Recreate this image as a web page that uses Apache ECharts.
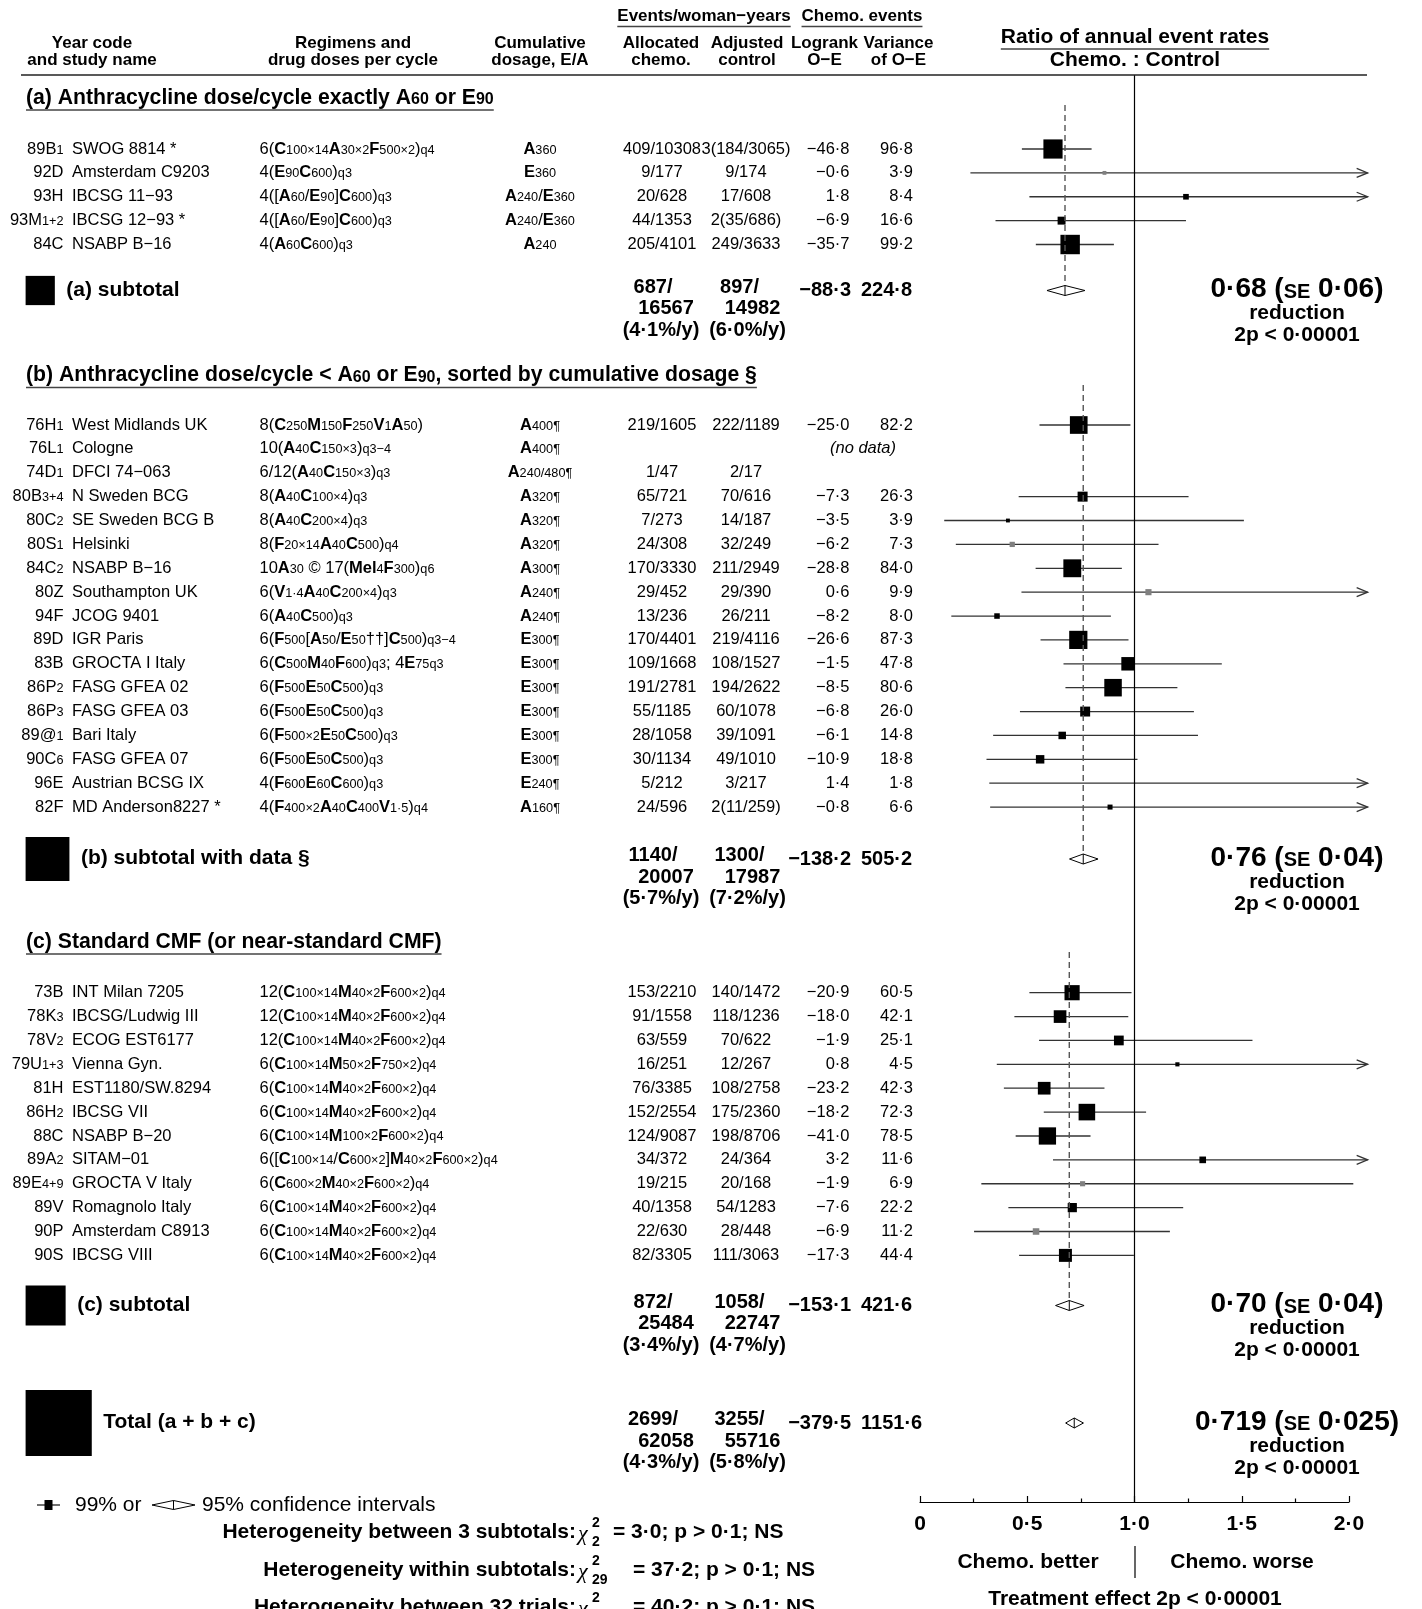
<!DOCTYPE html>
<html><head><meta charset="utf-8">
<script src="https://cdn.jsdelivr.net/npm/echarts@6/dist/echarts.min.js"></script>
<style>html,body{margin:0;padding:0;background:#fff}#c{width:1422px;height:1609px}</style>
</head><body><div id="c"></div>
<script>
// ---------------- DATA ----------------
// markup: *X* = bold, _x_ = small subscript
const codesA = ['89B_1_','92D','93H','93M_1+2_','84C'];
const studiesA = ['SWOG 8814 *','Amsterdam C9203','IBCSG 11−93','IBCSG 12−93 *','NSABP B−16'];
const regimensA = ['6(*C*_100×14_*A*_30×2_*F*_500×2_)_q4_','4(*E*_90_*C*_600_)_q3_','4([*A*_60_/*E*_90_]*C*_600_)_q3_','4([*A*_60_/*E*_90_]*C*_600_)_q3_','4(*A*_60_*C*_600_)_q3_'];
const cumulA = ['*A*_360_','*E*_360_','*A*_240_/*E*_360_','*A*_240_/*E*_360_','*A*_240_'];
const allocA = ['409/10308','9/177','20/628','44/1353','205/4101'];
const adjA = ['3(184/3065)','9/174','17/608','2(35/686)','249/3633'];
const oeA = [-46.8,-0.6,1.8,-6.9,-35.7];
const varA = [96.8,3.9,8.4,16.6,99.2];
const ratioA = [0.62,0.86,1.24,0.66,0.70];
const loA = [0.475,0.235,0.51,0.352,0.54];
const hiA = [0.80,3.16,3.01,1.24,0.904];
const grayA = [0,1,0,0,0];

const codesB = ['76H_1_','76L_1_','74D_1_','80B_3+4_','80C_2_','80S_1_','84C_2_','80Z','94F','89D','83B','86P_2_','86P_3_','89@_1_','90C_6_','96E','82F'];
const studiesB = ['West Midlands UK','Cologne','DFCI 74−063','N Sweden BCG','SE Sweden BCG B','Helsinki','NSABP B−16','Southampton UK','JCOG 9401','IGR Paris','GROCTA I Italy','FASG GFEA 02','FASG GFEA 03','Bari Italy','FASG GFEA 07','Austrian BCSG IX','MD Anderson8227 *'];
const regimensB = ['8(*C*_250_*M*_150_*F*_250_*V*_1_*A*_50_)','10(*A*_40_*C*_150×3_)_q3−4_','6/12(*A*_40_*C*_150×3_)_q3_','8(*A*_40_*C*_100×4_)_q3_','8(*A*_40_*C*_200×4_)_q3_','8(*F*_20×14_*A*_40_*C*_500_)_q4_','10*A*_30_ © 17(*Mel*_4_*F*_300_)_q6_','6(*V*_1·4_*A*_40_*C*_200×4_)_q3_','6(*A*_40_*C*_500_)_q3_','6(*F*_500_[*A*_50_/*E*_50_††]*C*_500_)_q3−4_','6(*C*_500_*M*_40_*F*_600_)_q3_; 4*E*_75q3_','6(*F*_500_*E*_50_*C*_500_)_q3_','6(*F*_500_*E*_50_*C*_500_)_q3_','6(*F*_500×2_*E*_50_*C*_500_)_q3_','6(*F*_500_*E*_50_*C*_500_)_q3_','4(*F*_600_*E*_60_*C*_600_)_q3_','4(*F*_400×2_*A*_40_*C*_400_*V*_1·5_)_q4_'];
const cumulB = ['*A*_400¶_','*A*_400¶_','*A*_240/480¶_','*A*_320¶_','*A*_320¶_','*A*_320¶_','*A*_300¶_','*A*_240¶_','*A*_240¶_','*E*_300¶_','*E*_300¶_','*E*_300¶_','*E*_300¶_','*E*_300¶_','*E*_300¶_','*E*_240¶_','*A*_160¶_'];
const allocB = ['219/1605','','1/47','65/721','7/273','24/308','170/3330','29/452','13/236','170/4401','109/1668','191/2781','55/1185','28/1058','30/1134','5/212','24/596'];
const adjB = ['222/1189','','2/17','70/616','14/187','32/249','211/2949','29/390','26/211','219/4116','108/1527','194/2622','60/1078','39/1091','49/1010','3/217','2(11/259)'];
const oeB = [-25.0,null,null,-7.3,-3.5,-6.2,-28.8,0.6,-8.2,-26.6,-1.5,-8.5,-6.8,-6.1,-10.9,1.4,-0.8];
const varB = [82.2,null,null,26.3,3.9,7.3,84.0,9.9,8.0,87.3,47.8,80.6,26.0,14.8,18.8,1.8,6.6];
const ratioB = [0.74,null,null,0.758,0.41,0.43,0.71,1.065,0.359,0.738,0.97,0.90,0.77,0.663,0.56,null,0.886];
const loB = [0.557,null,null,0.46,0.113,0.167,0.539,0.473,0.146,0.562,0.669,0.678,0.466,0.341,0.31,0.323,0.327];
const hiB = [0.981,null,null,1.252,1.51,1.112,0.941,2.41,0.89,0.972,1.407,1.2,1.277,1.296,1.014,3.05,2.42];
const grayB = [0,0,0,0,0,1,0,1,0,0,0,0,0,0,0,0,0];
const notesB = ['','(no data)','','','','','','','','','','','','','','',''];

const codesC = ['73B','78K_3_','78V_2_','79U_1+3_','81H','86H_2_','88C','89A_2_','89E_4+9_','89V','90P','90S'];
const studiesC = ['INT Milan 7205','IBCSG/Ludwig III','ECOG EST6177','Vienna Gyn.','EST1180/SW.8294','IBCSG VII','NSABP B−20','SITAM−01','GROCTA V Italy','Romagnolo Italy','Amsterdam C8913','IBCSG VIII'];
const regimensC = ['12(*C*_100×14_*M*_40×2_*F*_600×2_)_q4_','12(*C*_100×14_*M*_40×2_*F*_600×2_)_q4_','12(*C*_100×14_*M*_40×2_*F*_600×2_)_q4_','6(*C*_100×14_*M*_50×2_*F*_750×2_)_q4_','6(*C*_100×14_*M*_40×2_*F*_600×2_)_q4_','6(*C*_100×14_*M*_40×2_*F*_600×2_)_q4_','6(*C*_100×14_*M*_100×2_*F*_600×2_)_q4_','6([*C*_100×14_/*C*_600×2_]*M*_40×2_*F*_600×2_)_q4_','6(*C*_600×2_*M*_40×2_*F*_600×2_)_q4_','6(*C*_100×14_*M*_40×2_*F*_600×2_)_q4_','6(*C*_100×14_*M*_40×2_*F*_600×2_)_q4_','6(*C*_100×14_*M*_40×2_*F*_600×2_)_q4_'];
const cumulC = ['','','','','','','','','','','',''];
const allocC = ['153/2210','91/1558','63/559','16/251','76/3385','152/2554','124/9087','34/372','19/215','40/1358','22/630','82/3305'];
const adjC = ['140/1472','118/1236','70/622','12/267','108/2758','175/2360','198/8706','24/364','20/168','54/1283','28/448','111/3063'];
const oeC = [-20.9,-18.0,-1.9,0.8,-23.2,-18.2,-41.0,3.2,-1.9,-7.6,-6.9,-17.3];
const varC = [60.5,42.1,25.1,4.5,42.3,72.3,78.5,11.6,6.9,22.2,11.2,44.4];
const ratioC = [0.709,0.653,0.927,1.20,0.579,0.778,0.594,1.318,0.758,0.71,0.541,0.678];
const loC = [0.51,0.44,0.555,0.358,0.391,0.577,0.446,0.62,0.286,0.412,0.252,0.462];
const hiC = [0.986,0.971,1.55,4.0,0.86,1.054,0.795,2.81,2.02,1.227,1.165,0.997];
const grayC = [0,0,0,0,0,0,0,0,1,0,1,0];

const sectionTitles = ['(a) Anthracycline dose/cycle exactly A_60_ or E_90_','(b) Anthracycline dose/cycle < A_60_ or E_90_, sorted by cumulative dosage §','(c) Standard CMF (or near-standard CMF)'];
const subLabels = ['(a) subtotal','(b) subtotal with data §','(c) subtotal','Total (a + b + c)'];
const subAllocEv = ['687/','1140/','872/','2699/'];
const subAllocYrs = ['16567','20007','25484','62058'];
const subAllocRate = ['(4·1%/y)','(5·7%/y)','(3·4%/y)','(4·3%/y)'];
const subAdjEv = ['897/','1300/','1058/','3255/'];
const subAdjYrs = ['14982','17987','22747','55716'];
const subAdjRate = ['(6·0%/y)','(7·2%/y)','(4·7%/y)','(5·8%/y)'];
const subOE = [-88.3,-138.2,-153.1,-379.5];
const subVar = [224.8,505.2,421.6,1151.6];
const subRatio = [0.676,0.761,0.696,0.719];
const subLo95 = [0.592,0.697,0.632,0.679];
const subHi95 = [0.769,0.830,0.765,0.762];
const subRatioText = ['0·68','0·76','0·70','0·719'];
const subSEText = ['0·06','0·04','0·04','0·025'];
const xTicks = [0,0.5,1,1.5,2];
const hetLeft = ['Heterogeneity between 3 subtotals:','Heterogeneity within subtotals:','Heterogeneity between 32 trials:'];
const hetDf = ['2','29','31'];
const hetRight = ['= 3·0; p > 0·1; NS','= 37·2; p > 0·1; NS','= 40·2; p > 0·1; NS'];

// ---------------- LAYOUT ----------------
const FONTF = '"Liberation Sans", Arial, Helvetica, sans-serif';
const GT = 75, GB = 1502;
const STEP = 23.88;
const secTitleY = [98, 375.5, 942];
const secRowY0 = [149, 425, 992.7];
const subY = [290.5, 859, 1305.5, 1423];
const dashSpan = [[105, 285], [385, 854], [952, 1300]];
const ARROW_AT = 2.05, ARROW_TIP = 2.087;
const SQ_K = 1.95;

const mctx = document.createElement('canvas').getContext('2d');
function tw(font, s) { mctx.font = font; return mctx.measureText(s).width; }
function fmt(v) { return v == null ? '' : (v < 0 ? '−' : '') + Math.abs(v).toFixed(1).replace('.', '·'); }
function toRich(s, pl, bo, sm) {
  return s.split(/(\*[^*]+\*|_[^_]+_)/).filter(p => p !== '').map(p => {
    if (p[0] === '*') return '{' + bo + '|' + p.slice(1, -1) + '}';
    if (p[0] === '_') return '{' + sm + '|' + p.slice(1, -1) + '}';
    return '{' + pl + '|' + p + '}';
  }).join('');
}
const RT = {
  n: {fontSize: 16.5, fontFamily: FONTF, fill: '#000', lineHeight: 19},
  b: {fontSize: 16.5, fontFamily: FONTF, fontWeight: 'bold', fill: '#000', lineHeight: 19},
  s: {fontSize: 12.7, fontFamily: FONTF, fill: '#000', lineHeight: 19, height: 17, verticalAlign: 'bottom'}
};
const RTT = {
  t: {fontSize: 21.2, fontFamily: FONTF, fontWeight: 'bold', fill: '#000', lineHeight: 24},
  u: {fontSize: 16, fontFamily: FONTF, fontWeight: 'bold', fill: '#000', lineHeight: 24, height: 20.4, verticalAlign: 'bottom'}
};
const RTS = {
  g: {fontSize: 28, fontFamily: FONTF, fontWeight: 'bold', fill: '#000', lineHeight: 30},
  e: {fontSize: 20, fontFamily: FONTF, fontWeight: 'bold', fill: '#000', lineHeight: 30, height: 24.5, verticalAlign: 'bottom'}
};

const G = [];
function T(x, y, text, st) {
  G.push({type: 'text', x: x, y: y, silent: true, z: 10,
    style: Object.assign({text: text, fill: '#000', textAlign: 'left', textVerticalAlign: 'middle'}, st || {})});
}
function L(x1, y1, x2, y2, w, c) {
  G.push({type: 'line', silent: true, z: 10, shape: {x1: x1, y1: y1, x2: x2, y2: y2}, style: {stroke: c || '#000', lineWidth: w || 1}});
}
function RC(x, y, w, h, fill) {
  G.push({type: 'rect', silent: true, z: 10, shape: {x: x, y: y, width: w, height: h}, style: {fill: fill || '#000'}});
}
const f = (w, s) => w + ' ' + s + 'px ' + FONTF;

// headers
const H17 = f('bold', 17);
T(92, 51.5, 'Year code\nand study name', {font: H17, textAlign: 'center', lineHeight: 17});
T(353, 51.5, 'Regimens and\ndrug doses per cycle', {font: H17, textAlign: 'center', lineHeight: 17});
T(540, 51.5, 'Cumulative\ndosage, E/A', {font: H17, textAlign: 'center', lineHeight: 17});
T(661, 51.5, 'Allocated\nchemo.', {font: H17, textAlign: 'center', lineHeight: 17});
T(747, 51.5, 'Adjusted\ncontrol', {font: H17, textAlign: 'center', lineHeight: 17});
T(824.5, 51.5, 'Logrank\nO−E', {font: H17, textAlign: 'center', lineHeight: 17});
T(898.5, 51.5, 'Variance\nof O−E', {font: H17, textAlign: 'center', lineHeight: 17});
[['Events/woman−years', 704], ['Chemo. events', 862]].forEach(([s, cx]) => {
  T(cx, 16.5, s, {font: H17, textAlign: 'center'});
  const w = tw(H17, s); L(cx - w / 2, 26.5, cx + w / 2, 26.5, 1.3, '#444');
});
const H21 = f('bold', 21);
T(1135, 37, 'Ratio of annual event rates', {font: H21, textAlign: 'center'});
{ const w = tw(H21, 'Ratio of annual event rates'); L(1135 - w / 2, 49, 1135 + w / 2, 49, 1.3, '#444'); }
T(1135, 60, 'Chemo. : Control', {font: H21, textAlign: 'center'});
L(21, GT, 1367, GT, 1.5, '#222');

// section titles
sectionTitles.forEach((s, k) => {
  T(26, secTitleY[k], toRich(s, 't', 't', 'u'), {rich: RTT});
  let w = 0;
  s.split(/(_[^_]+_)/).filter(p => p).forEach(p => { w += p[0] === '_' ? tw(f('bold', 16), p.slice(1, -1)) : tw(f('bold', 21.2), p); });
  L(26, secTitleY[k] + 12, 26 + w, secTitleY[k] + 12, 1.5, '#444');
});

// trial rows
const sections = [
  {codes: codesA, studies: studiesA, reg: regimensA, cum: cumulA, al: allocA, ad: adjA, oe: oeA, vr: varA, r: ratioA, lo: loA, hi: hiA, gr: grayA, notes: null},
  {codes: codesB, studies: studiesB, reg: regimensB, cum: cumulB, al: allocB, ad: adjB, oe: oeB, vr: varB, r: ratioB, lo: loB, hi: hiB, gr: grayB, notes: notesB},
  {codes: codesC, studies: studiesC, reg: regimensC, cum: cumulC, al: allocC, ad: adjC, oe: oeC, vr: varC, r: ratioC, lo: loC, hi: hiC, gr: grayC, notes: null}
];
const trials = [];
const R16 = f('normal', 16.5);
sections.forEach((S, k) => {
  S.codes.forEach((c, i) => {
    const y = secRowY0[k] + i * STEP;
    T(63.5, y, toRich(c, 'n', 'b', 's'), {rich: RT, textAlign: 'right'});
    T(72, y, S.studies[i], {font: R16});
    T(259.5, y, toRich(S.reg[i], 'n', 'b', 's'), {rich: RT});
    if (S.cum[i]) T(540, y, toRich(S.cum[i], 'n', 'b', 's'), {rich: RT, textAlign: 'center'});
    if (S.al[i]) T(662, y, S.al[i], {font: R16, textAlign: 'center'});
    if (S.ad[i]) T(746, y, S.ad[i], {font: R16, textAlign: 'center'});
    if (S.oe[i] != null) T(849.5, y, fmt(S.oe[i]), {font: R16, textAlign: 'right'});
    if (S.vr[i] != null) T(913, y, fmt(S.vr[i]), {font: R16, textAlign: 'right'});
    if (S.notes && S.notes[i]) T(863, y, S.notes[i], {font: f('italic', 16.5), textAlign: 'center'});
    if (S.lo[i] != null) trials.push({y: y, pt: S.r[i], lo: S.lo[i], hi: S.hi[i], v: S.vr[i], gray: S.gr[i]});
  });
});

// subtotal rows
const B20 = f('bold', 20);
subLabels.forEach((lab, k) => {
  const y = subY[k];
  const side = SQ_K * Math.sqrt(subVar[k]);
  RC(25.6, y - side / 2, side, side);
  T(25.6 + side + 11.5, y - 0.5, lab, {font: H21});
  const y1 = y - 3.5;
  T(661 - 8, y1, subAllocEv[k], {font: B20, textAlign: 'center'});
  T(661 + 5, y1 + 21.5, subAllocYrs[k], {font: B20, textAlign: 'center'});
  T(661, y1 + 43, subAllocRate[k], {font: B20, textAlign: 'center'});
  T(747.5 - 8, y1, subAdjEv[k], {font: B20, textAlign: 'center'});
  T(747.5 + 5, y1 + 21.5, subAdjYrs[k], {font: B20, textAlign: 'center'});
  T(747.5, y1 + 43, subAdjRate[k], {font: B20, textAlign: 'center'});
  T(851, y, fmt(subOE[k]), {font: B20, textAlign: 'right'});
  T(861, y, fmt(subVar[k]), {font: B20, textAlign: 'left'});
  T(1297, y - 1, '{g|' + subRatioText[k] + ' (}{e|SE}{g| ' + subSEText[k] + ')}', {rich: RTS, textAlign: 'center'});
  T(1297, y + 23, 'reduction', {font: H21, textAlign: 'center'});
  T(1297, y + 45, '2p < 0·00001', {font: H21, textAlign: 'center'});
});

// bottom annotations
L(37, 1505, 60, 1505, 1.3, '#222'); RC(44.5, 1500, 8, 10);
G.push({type: 'polygon', silent: true, z: 10, shape: {points: [[152, 1505], [173.5, 1500.5], [195, 1505], [173.5, 1509.5]]}, style: {fill: '#fff', stroke: '#000', lineWidth: 1}});
L(173.5, 1500.5, 173.5, 1509.5, 1, '#000');
T(75, 1505, '99% or', {font: f('normal', 21)});
T(202, 1505, '95% confidence intervals', {font: f('normal', 21)});
const hetY = [1532, 1570, 1607];
const hetRX = [613, 633, 633];
hetLeft.forEach((s, k) => {
  const y = hetY[k];
  T(576, y, s, {font: H21, textAlign: 'right'});
  T(578, y + 2, 'χ', {font: 'italic 22px "Liberation Serif", serif'});
  T(592, y - 9, '2', {font: f('bold', 14)});
  T(592, y + 10, hetDf[k], {font: f('bold', 14)});
  T(hetRX[k], y, hetRight[k], {font: H21});
});
T(1028, 1562, 'Chemo. better', {font: H21, textAlign: 'center'});
T(1242, 1562, 'Chemo. worse', {font: H21, textAlign: 'center'});
L(1135, 1546, 1135, 1578, 1.2, '#000');
T(1135, 1599, 'Treatment effect 2p < 0·00001', {font: H21, textAlign: 'center'});

// ---------------- CHART ----------------
const chart = echarts.init(document.getElementById('c'), null, {renderer: 'canvas', width: 1422, height: 1609});
const dashData = dashSpan.map((d, k) => [subRatio[k], d[0] - GT, d[1] - GT]);
const diaData = subY.map((y, k) => [subLo95[k], y - GT, subRatio[k], subHi95[k]]);
const option = {
  animation: false,
  backgroundColor: '#fff',
  grid: {left: 920, top: GT, width: 429, height: GB - GT, containLabel: false, outerBoundsMode: 'none', show: false},
  xAxis: {
    type: 'value', min: 0, max: 2, interval: 0.5, position: 'bottom',
    axisLine: {show: true, onZero: false, lineStyle: {color: '#000', width: 1.2}},
    axisTick: {show: true, inside: true, length: 6, lineStyle: {color: '#000', width: 1.2}},
    minorTick: {show: true, splitNumber: 2, length: 3.5, lineStyle: {color: '#000', width: 1.2}},
    splitLine: {show: false}, minorSplitLine: {show: false},
    axisLabel: {show: true, margin: 12, color: '#000', fontFamily: FONTF, fontSize: 21, fontWeight: 'bold',
      formatter: v => xTicks.indexOf(v) < 0 ? '' : (v === 0 ? '0' : v.toFixed(1).replace('.', '·'))}
  },
  yAxis: {type: 'value', min: 0, max: GB - GT, inverse: true, show: false},
  series: [
    {
      type: 'custom', name: 'trials', coordinateSystem: 'cartesian2d', silent: true, clip: false,
      data: trials.map(t => [t.lo, t.y - GT]),
      renderItem: function (params, api) {
        const t = trials[params.dataIndex];
        const y = api.value(1);
        const pLo = api.coord([t.lo, y]);
        const arrow = t.hi > ARROW_AT;
        const pHi = api.coord([arrow ? ARROW_TIP : t.hi, y]);
        const ch = [{type: 'line', shape: {x1: pLo[0], y1: pLo[1], x2: pHi[0], y2: pHi[1]}, style: {stroke: '#333', lineWidth: 1.3}}];
        if (arrow) ch.push({type: 'polyline', shape: {points: [[pHi[0] - 11, pHi[1] - 4.5], [pHi[0], pHi[1]], [pHi[0] - 11, pHi[1] + 4.5]]}, style: {stroke: '#333', fill: null, lineWidth: 1.3}});
        if (t.pt != null && t.pt <= 2) {
          const c = api.coord([t.pt, y]);
          const s = Math.max(3.5, SQ_K * Math.sqrt(t.v));
          ch.push({type: 'rect', shape: {x: c[0] - s / 2, y: c[1] - s / 2, width: s, height: s}, style: {fill: t.gray ? '#808080' : '#000'}});
        }
        return {type: 'group', children: ch};
      },
      markLine: {silent: true, symbol: ['none', 'none'], label: {show: false}, animation: false,
        lineStyle: {color: '#000', width: 1.2, type: 'solid'}, data: [{xAxis: 1}]}
    },
    {
      type: 'custom', name: 'pooled', coordinateSystem: 'cartesian2d', silent: true, clip: false,
      data: dashData,
      renderItem: function (params, api) {
        const a = api.coord([api.value(0), api.value(1)]);
        const b = api.coord([api.value(0), api.value(2)]);
        return {type: 'line', shape: {x1: a[0], y1: a[1], x2: b[0], y2: b[1]}, style: {stroke: '#555', lineWidth: 1.4, lineDash: [6, 4]}};
      }
    },
    {
      type: 'custom', name: 'diamonds', coordinateSystem: 'cartesian2d', silent: true, clip: false, z: 5,
      data: diaData,
      renderItem: function (params, api) {
        const y = api.value(1);
        const l = api.coord([api.value(0), y]);
        const m = api.coord([api.value(2), y]);
        const r = api.coord([api.value(3), y]);
        const h = 5;
        return {type: 'group', children: [
          {type: 'polygon', shape: {points: [[l[0], l[1]], [m[0], m[1] - h], [r[0], r[1]], [m[0], m[1] + h]]}, style: {fill: '#fff', stroke: '#000', lineWidth: 1}},
          {type: 'line', shape: {x1: m[0], y1: m[1] - h, x2: m[0], y2: m[1] + h}, style: {stroke: '#000', lineWidth: 1}}
        ]};
      }
    }
  ],
  graphic: {elements: G}
};
chart.setOption(option);
</script>
</body></html>
